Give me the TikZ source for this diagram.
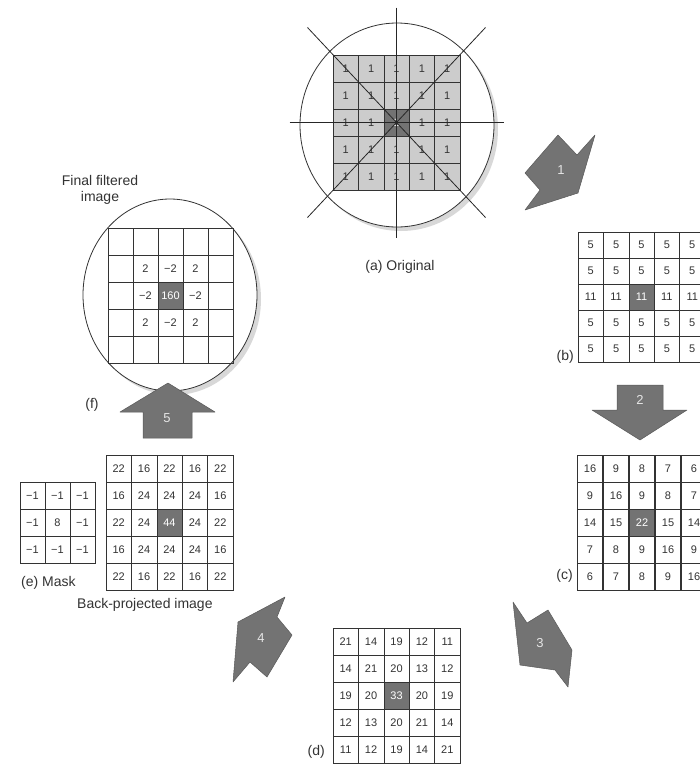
\documentclass[tikz,border=0pt]{standalone}
\usepackage{fontspec}
\setmainfont{Liberation Sans}
\usetikzlibrary{shapes.geometric,shadows}

\begin{document}
\begin{tikzpicture}[x=1pt,y=-1pt,
  cell/.style={draw=black!80,line width=0.6pt,minimum width=25.4pt,minimum height=26.8pt,
    inner sep=0pt,font=\fontsize{11}{12}\selectfont,text=black!80},
  hot/.style={fill=black!55,text=white},
  disc/.style={ellipse,draw=black!80,line width=0.8pt,fill=white,
    drop shadow={shadow xshift=4pt,shadow yshift=-4pt,opacity=0.3}},
  ray/.style={draw=black!85,line width=0.8pt},
  blockarrow/.style={fill=black!55,draw=black!65,line width=0.5pt,line join=round},
  arrownum/.style={text=black!10,font=\fontsize{13}{14}\selectfont},
  lbl/.style={text=black!80,font=\fontsize{14}{16}\selectfont,inner sep=1pt}]
\useasboundingbox (0,0) rectangle (700,764);
\clip (0,0) rectangle (700,764);
\fill[white] (0,0) rectangle (700,764);

% (a) original image with the projection rays
\node[disc,minimum width=194pt,minimum height=204pt] (orig) at (397,125) {};
\foreach \r in {1,...,5}
  \foreach \c in {1,...,5}
    \node[cell,fill=gray!40] (a\r\c) at ({333+(\c-0.5)*25.4},{55+(\r-0.5)*27}) {1};
\node[cell,hot] (a33) at (a33) {1};
\draw[ray] (a33.center) ++(-107,0) -- ++(214,0);
\draw[ray] (a33.center) ++(0,-115) -- ++(0,230);
\draw[ray] (a33.center) ++(-89,-95) -- ++(178,190);
\draw[ray] (a33.center) ++(-89,95) -- ++(178,-190);
\node[lbl] (capa) at (400,267) {(a) Original};

% (b) first projection
\foreach \r/\row in {1/{5,5,5,5,5},2/{5,5,5,5,5},3/{11,11,11,11,11},4/{5,5,5,5,5},5/{5,5,5,5,5}}
  \foreach \v [count=\c] in \row
    \node[cell,minimum height=26pt] (b\r\c) at ({578+(\c-0.5)*25.4},{232+(\r-0.5)*26}) {\v};
\node[cell,minimum height=26pt,hot] (b33) at (b33) {11};
\node[lbl,anchor=east] (capb) at (575,357) {(b)};

% (c) second projection
\foreach \r/\row in {1/{16,9,8,7,6},2/{9,16,9,8,7},3/{14,15,22,15,14},4/{7,8,9,16,9},5/{6,7,8,9,16}}
  \foreach \v [count=\c] in \row
    \node[cell] (c\r\c) at ({577+(\c-0.5)*26},{455+(\r-0.5)*27}) {\v};
\node[cell,hot] (c33) at (c33) {22};
\node[lbl,anchor=east] (capc) at (574,576) {(c)};

% (d) third projection
\foreach \r/\row in {1/{21,14,19,12,11},2/{14,21,20,13,12},3/{19,20,33,20,19},4/{12,13,20,21,14},5/{11,12,19,14,21}}
  \foreach \v [count=\c] in \row
    \node[cell] (d\r\c) at ({333+(\c-0.5)*25.4},{628+(\r-0.5)*27}) {\v};
\node[cell,hot] (d33) at (d33) {33};
\node[lbl,anchor=east] (capd) at (326,752) {(d)};

% back-projected image and (e) mask
\foreach \r/\row in {1/{22,16,22,16,22},2/{16,24,24,24,16},3/{22,24,44,24,22},4/{16,24,24,24,16},5/{22,16,22,16,22}}
  \foreach \v [count=\c] in \row
    \node[cell] (p\r\c) at ({106+(\c-0.5)*25.4},{455+(\r-0.5)*27}) {\v};
\node[cell,hot] (p33) at (p33) {44};
\node[lbl,anchor=west] (capp) at (76,605) {Back-projected image};
\foreach \r/\row in {1/{−1,−1,−1},2/{−1,8,−1},3/{−1,−1,−1}}
  \foreach \v [count=\c] in \row
    \node[cell,minimum width=25pt,minimum height=27pt] (m\r\c) at ({20+(\c-0.5)*25},{482+(\r-0.5)*27}) {\v};
\node[lbl,anchor=west] (cape) at (20,583) {(e) Mask};

% (f) final filtered image
\node[disc,minimum width=174pt,minimum height=192pt] (final) at (170,295) {};
\foreach \r/\row in {1/{{},{},{},{},{}},2/{{},2,−2,2,{}},3/{{},−2,160,−2,{}},4/{{},2,−2,2,{}},5/{{},{},{},{},{}}}
  \foreach \v [count=\c] in \row
    \node[cell] (f\r\c) at ({108+(\c-0.5)*25},{228+(\r-0.5)*27}) {\v};
\node[cell,minimum width=25pt,hot] (f33) at (f33) {160};
\node[lbl,align=center] (capf) at (100,190) {Final filtered\\image};
\node[lbl] (capff) at (92,405) {(f)};

% the five step arrows
\filldraw[blockarrow] (558,135) -- (577,155) -- (595,135) -- (578,193) -- (525,210) -- (540,190) -- (525,173) -- cycle;
\node[arrownum] (s1) at (561,170) {1};
\filldraw[blockarrow] (617,385) -- (663,385) -- (663,410) -- (687,410) -- (640,440) -- (592,410) -- (617,410) -- cycle;
\node[arrownum] (s2) at (640,400) {2};
\filldraw[blockarrow] (513,602) -- (527,623) -- (548,610) -- (572,650) -- (568,687) -- (555,670) -- (520,665) -- cycle;
\node[arrownum] (s3) at (540,643) {3};
\filldraw[blockarrow] (285,597) -- (238,622) -- (233,682) -- (250,662) -- (267,677) -- (292,635) -- (277,617) -- cycle;
\node[arrownum] (s4) at (261,638) {4};
\filldraw[blockarrow] (143,438) -- (192,438) -- (192,412) -- (215,412) -- (168,383) -- (120,412) -- (143,412) -- cycle;
\node[arrownum] (s5) at (167,418) {5};
\end{tikzpicture}
\end{document}
